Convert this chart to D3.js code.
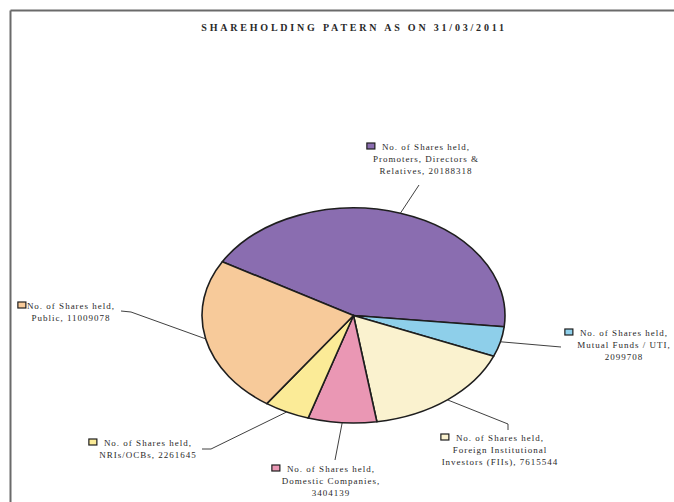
<!DOCTYPE html>
<html>
<head>
<meta charset="utf-8">
<script src="https://cdn.jsdelivr.net/npm/d3@7"></script>
<style>
  html, body { margin: 0; padding: 0; background: #fff; }
  svg { display: block; }
  text { font-family: "Liberation Serif", "DejaVu Serif", serif; fill: #2a2a2a; }
</style>
</head>
<body>
<svg id="chart" width="674" height="502"></svg>
<script>
// Shareholding pattern as on 31/03/2011
const categories = [
  "Promoters, Directors & Relatives",
  "Mutual Funds / UTI",
  "Foreign Institutional Investors (FIIs)",
  "Domestic Companies",
  "NRIs/OCBs",
  "Public"
];
const shares = [20188318, 2099708, 7615544, 3404139, 2261645, 11009078];
const colors = ["#8a6db0", "#8ecfea", "#faf2cf", "#ea97b4", "#fbeb97", "#f7ca9a"];
// label text lines per slice (the value is appended on the final line)
const labelLines = [
  ["No. of Shares held,", "Promoters, Directors &", "Relatives, "],
  ["No. of Shares held,", "Mutual Funds / UTI,", ""],
  ["No. of Shares held,", "Foreign Institutional", "Investors (FIIs), "],
  ["No. of Shares held,", "Domestic Companies,", ""],
  ["No. of Shares held,", "NRIs/OCBs, "],
  ["No. of Shares held,", "Public, "]
];

const svg = d3.select("#chart");

// frame lines
svg.append("line").attr("x1", 10.5).attr("y1", 10.5).attr("x2", 674).attr("y2", 10.5)
  .attr("stroke", "#6a6a6a").attr("stroke-width", 2);
svg.append("line").attr("x1", 10.5).attr("y1", 10.5).attr("x2", 10.5).attr("y2", 502)
  .attr("stroke", "#6a6a6a").attr("stroke-width", 2);

// title
svg.append("text")
  .attr("x", 354).attr("y", 31)
  .attr("text-anchor", "middle")
  .style("font-size", "10px").style("font-weight", "bold")
  .style("letter-spacing", "2.8px")
  .text("SHAREHOLDING PATERN AS ON 31/03/2011");

// elliptical pie
const cx = 353.5, cy = 315.5, rx = 151.5, ry = 107.5;
const start = -60 * Math.PI / 180;
const pie = d3.pie().sort(null).startAngle(start).endAngle(start + 2 * Math.PI);
const arcs = pie(shares);
const arc = d3.arc().innerRadius(0).outerRadius(rx);

const g = svg.append("g").attr("transform", `translate(${cx},${cy}) scale(1,${ry / rx})`);
g.selectAll("path").data(arcs).enter().append("path")
  .attr("d", arc)
  .attr("fill", (d, i) => colors[i])
  .attr("stroke", "#1e1e1e")
  .attr("stroke-width", 1.6)
  .attr("stroke-linejoin", "round")
  .attr("vector-effect", "non-scaling-stroke");

// point on the ellipse edge at a slice's mid angle
function edgePoint(d) {
  const a = (d.startAngle + d.endAngle) / 2;
  return [cx + Math.sin(a) * rx, cy - Math.cos(a) * ry];
}

// leader line bends and label anchors
const leaderPts = [
  [[419, 185]],
  [[561, 347]],
  [[508, 424], [508, 430]],
  [[335, 460]],
  [[211, 449], [202, 449]],
  [[131, 312], [121, 311]]
];
const labelPos = [
  { x: 426, y: 150, gap: 15 },
  { x: 624, y: 336, gap: 15 },
  { x: 500, y: 441, gap: 15 },
  { x: 331, y: 472, gap: 15 },
  { x: 148, y: 446, gap: 15 },
  { x: 71, y: 309, gap: 9 }
];

const line = d3.line();
arcs.forEach((d, i) => {
  svg.append("path")
    .attr("d", line([edgePoint(d), ...leaderPts[i]]))
    .attr("fill", "none")
    .attr("stroke", "#2a2a2a")
    .attr("stroke-width", 0.9);
});

const fmt = d3.format("d");
arcs.forEach((d, i) => {
  const lines = labelLines[i].slice();
  lines[lines.length - 1] = lines[lines.length - 1] + fmt(shares[i]);
  const lg = svg.append("g");
  const t = lg.append("text")
    .attr("text-anchor", "middle")
    .style("font-size", "9px")
    .style("letter-spacing", "1px");
  lines.forEach((s, k) => {
    t.append("tspan").attr("x", labelPos[i].x).attr("y", labelPos[i].y + k * 12).text(s);
  });
  // legend swatch before the first line
  const first = t.select("tspan").node();
  const w = first.getComputedTextLength();
  lg.append("rect")
    .attr("x", labelPos[i].x - w / 2 - labelPos[i].gap)
    .attr("y", labelPos[i].y - 7)
    .attr("width", 8).attr("height", 6)
    .attr("fill", colors[i])
    .attr("stroke", "#1e1e1e")
    .attr("stroke-width", 1.2);
});
</script>
</body>
</html>
